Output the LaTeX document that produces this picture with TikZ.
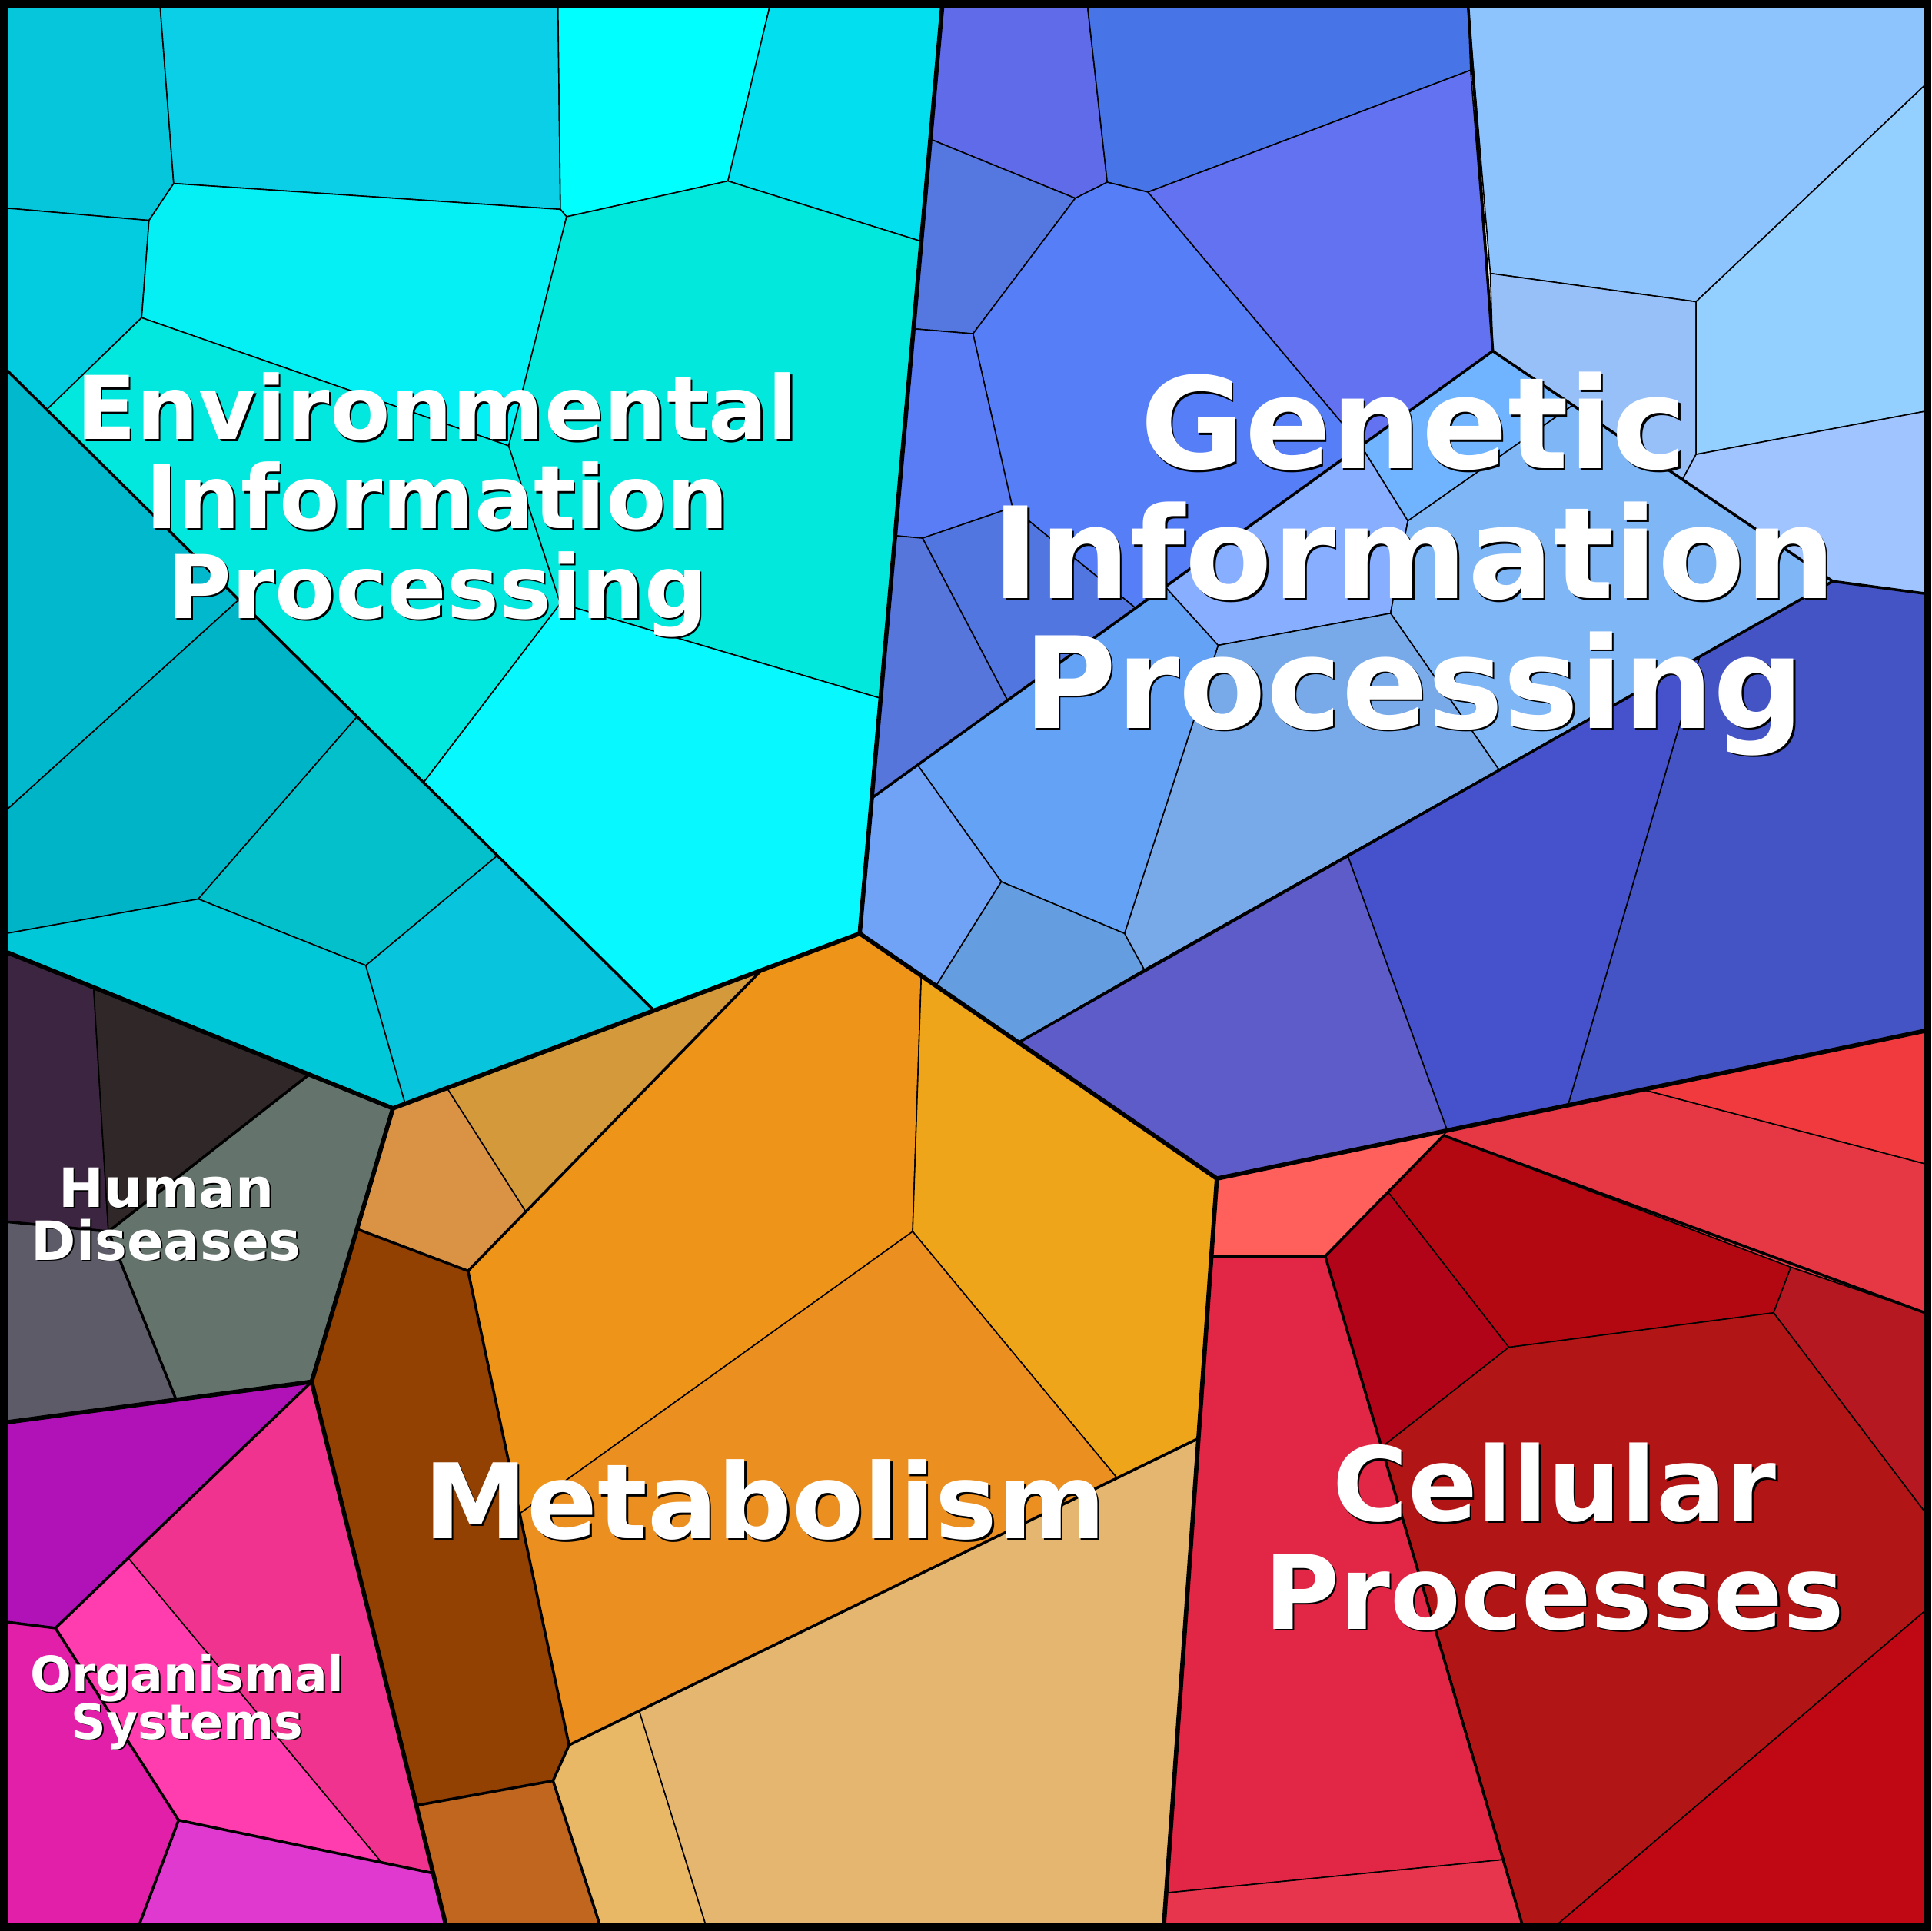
\documentclass[tikz,border=0pt]{standalone}
\usepackage{fontspec}
\setmainfont{DejaVu Sans}
\begin{document}
\begin{tikzpicture}[x=0.016cm,y=-0.016cm,
  cell/.style={draw=black,line width=0.45pt,line join=round},
  mid/.style={draw=black,line width=1pt,line join=round},
  top/.style={draw=black,line width=1.6pt,line join=round},
  lab/.style={text=white,font=\bfseries,align=center,inner sep=0pt},
  shd/.style={text=black,font=\bfseries,align=center,inner sep=0pt}]
\useasboundingbox (0,0) rectangle (1568,1568);
% ---------- Environmental ----------
\filldraw[cell,fill={rgb,255:red,5;green,198;blue,219}] (5,5)--(130,5)--(141,149)--(121,179)--(5,169)--cycle;
\filldraw[cell,fill={rgb,255:red,11;green,207;blue,230}] (130,5)--(453,5)--(455,170)--(141,149)--cycle;
\filldraw[cell,fill={rgb,255:red,0;green,255;blue,255}] (453,5)--(625,5)--(591,147)--(460,176)--(455,170)--cycle;
\filldraw[cell,fill={rgb,255:red,2;green,224;blue,240}] (625,5)--(765,5)--(748,196)--(591,147)--cycle;
\filldraw[cell,fill={rgb,255:red,4;green,204;blue,224}] (5,169)--(121,179)--(115,258)--(38,332.6)--(5,300)--cycle;
\filldraw[cell,fill={rgb,255:red,5;green,240;blue,245}] (141,149)--(455,170)--(460,176)--(413,362)--(115,258)--(121,179)--cycle;
\filldraw[cell,fill={rgb,255:red,3;green,232;blue,222}] (115,258)--(413,362)--(455,490)--(344,635.3)--(38,332.6)--cycle;
\filldraw[cell,fill={rgb,255:red,3;green,232;blue,220}] (460,176)--(591,147)--(748,196)--(741.7,267)--(726.7,435)--(715,567)--(455,490)--(413,362)--cycle;
\filldraw[cell,fill={rgb,255:red,8;green,248;blue,255}] (455,490)--(715,567)--(707.8,648)--(698,758)--(618,788)--(531,820.6)--(344,635.3)--cycle;
\filldraw[cell,fill={rgb,255:red,2;green,184;blue,204}] (5,300)--(194,486.9)--(5,658)--cycle;
\filldraw[cell,fill={rgb,255:red,0;green,180;blue,200}] (5,658)--(194,486.9)--(290,581.9)--(161,730)--(5,758)--cycle;
\filldraw[cell,fill={rgb,255:red,3;green,192;blue,202}] (161,730)--(290,581.9)--(404,694.6)--(297,784)--cycle;
\filldraw[cell,fill={rgb,255:red,0;green,200;blue,216}] (5,758)--(161,730)--(297,784)--(329,896.3)--(319,900)--(5,773)--cycle;
\filldraw[cell,fill={rgb,255:red,8;green,196;blue,220}] (297,784)--(404,694.6)--(531,820.6)--(329,896.3)--cycle;
% ---------- Genetic ----------
\filldraw[cell,fill={rgb,255:red,95;green,107;blue,232}] (765,5)--(883,5)--(899,148)--(873,161)--(755.4,113)--cycle;
\filldraw[cell,fill={rgb,255:red,71;green,116;blue,230}] (883,5)--(1192,5)--(1194,57)--(932,156)--(899,148)--cycle;
\filldraw[cell,fill={rgb,255:red,98;green,114;blue,240}] (932,156)--(1194,57)--(1212,285)--(1105,362)--cycle;
\filldraw[cell,fill={rgb,255:red,85;green,119;blue,224}] (755.4,113)--(873,161)--(790,271)--(741.7,267)--cycle;
\filldraw[cell,fill={rgb,255:red,86;green,126;blue,246}] (873,161)--(899,148)--(932,156)--(1105,362)--(922,493.8)--(822,412)--(790,271)--cycle;
\filldraw[cell,fill={rgb,255:red,90;green,124;blue,244}] (741.7,267)--(790,271)--(822,412)--(749,437)--(726.7,435)--cycle;
\filldraw[cell,fill={rgb,255:red,82;green,118;blue,224}] (749,437)--(822,412)--(922,493.8)--(818,568.7)--cycle;
\filldraw[cell,fill={rgb,255:red,86;green,118;blue,220}] (726.7,435)--(749,437)--(818,568.7)--(707.8,648)--(715,567)--cycle;
\filldraw[cell,fill={rgb,255:red,112;green,180;blue,255}] (1212,285)--(1105,362)--(1143,423)--(1277,329)--cycle;
\filldraw[cell,fill={rgb,255:red,136;green,174;blue,255}] (1105,362)--(1143,423)--(1129,498)--(989,524)--(946,476.5)--cycle;
\filldraw[cell,fill={rgb,255:red,126;green,182;blue,246}] (1143,423)--(1277,329)--(1366,389.3)--(1488,472)--(1380,533)--(1217,625)--(1129,498)--cycle;
\filldraw[cell,fill={rgb,255:red,120;green,170;blue,234}] (989,524)--(1129,498)--(1217,625)--(1094,694.3)--(929,787.4)--(913,758)--cycle;
\filldraw[cell,fill={rgb,255:red,100;green,162;blue,246}] (946,476.5)--(989,524)--(913,758)--(813,716)--(745,621.2)--cycle;
\filldraw[cell,fill={rgb,255:red,112;green,162;blue,246}] (707.8,648)--(745,621.2)--(813,716)--(760,800.5)--(698,758)--cycle;
\filldraw[cell,fill={rgb,255:red,100;green,158;blue,224}] (813,716)--(913,758)--(929,787.4)--(827,846.5)--(760,800.5)--cycle;
\filldraw[cell,fill={rgb,255:red,142;green,196;blue,254}] (1192,5)--(1563,5)--(1563,69)--(1377,245)--(1210,222)--cycle;
\filldraw[cell,fill={rgb,255:red,152;green,192;blue,248}] (1210,222)--(1377,245)--(1377,369)--(1366,389.3)--(1212,285)--cycle;
\filldraw[cell,fill={rgb,255:red,148;green,208;blue,255}] (1377,245)--(1563,69)--(1563,334)--(1377,369)--cycle;
\filldraw[cell,fill={rgb,255:red,160;green,196;blue,255}] (1377,369)--(1563,334)--(1563,482)--(1488,472)--(1366,389.3)--cycle;
\filldraw[cell,fill={rgb,255:red,68;green,84;blue,196}] (1488,472)--(1563,482)--(1563,837)--(1334,884.8)--(1273,897.5)--(1380,533)--cycle;
\filldraw[cell,fill={rgb,255:red,70;green,82;blue,204}] (1380,533)--(1273,897.5)--(1175,918)--(1094,694.3)--(1217,625)--cycle;
\filldraw[cell,fill={rgb,255:red,94;green,92;blue,200}] (1094,694.3)--(1175,918)--(988,957)--(827,846.5)--(929,787.4)--cycle;
% ---------- Metabolism ----------
\filldraw[cell,fill={rgb,255:red,218;green,146;blue,69}] (319,900)--(363,883.5)--(427,984)--(380,1032)--(290,998)--cycle;
\filldraw[cell,fill={rgb,255:red,212;green,153;blue,58}] (363,883.5)--(618,788)--(427,984)--cycle;
\filldraw[cell,fill={rgb,255:red,238;green,148;blue,24}] (618,788)--(698,758)--(748,792.3)--(741,1000)--(422,1229)--(380,1032)--cycle;
\filldraw[cell,fill={rgb,255:red,239;green,165;blue,26}] (748,792.3)--(827,846.5)--(988,957)--(973,1168)--(907,1200.2)--(741,1000)--cycle;
\filldraw[cell,fill={rgb,255:red,235;green,143;blue,32}] (741,1000)--(907,1200.2)--(462,1417)--(422,1229)--cycle;
\filldraw[cell,fill={rgb,255:red,147;green,64;blue,3}] (290,998)--(380,1032)--(462,1417)--(449,1446)--(338,1466)--(253,1122)--cycle;
\filldraw[cell,fill={rgb,255:red,192;green,102;blue,30}] (338,1466)--(449,1446)--(487,1563)--(362,1563)--cycle;
\filldraw[cell,fill={rgb,255:red,232;green,184;blue,102}] (462,1417)--(519,1389.2)--(573,1563)--(487,1563)--(449,1446)--cycle;
\filldraw[cell,fill={rgb,255:red,229;green,182;blue,111}] (519,1389.2)--(973,1168)--(945,1563)--(573,1563)--cycle;
% ---------- Human Diseases ----------
\filldraw[cell,fill={rgb,255:red,60;green,37;blue,64}] (5,773)--(76,801.7)--(88,1000)--(5,992)--cycle;
\filldraw[cell,fill={rgb,255:red,48;green,40;blue,40}] (76,801.7)--(251,872.5)--(88,1000)--cycle;
\filldraw[cell,fill={rgb,255:red,100;green,115;blue,108}] (251,872.5)--(319,900)--(253,1122)--(143,1136.6)--(88,1000)--cycle;
\filldraw[cell,fill={rgb,255:red,94;green,91;blue,104}] (5,992)--(88,1000)--(143,1136.6)--(5,1155)--cycle;
% ---------- Organismal ----------
\filldraw[cell,fill={rgb,255:red,176;green,18;blue,184}] (5,1155)--(253,1122)--(104,1265)--(45,1322)--(5,1317)--cycle;
\filldraw[cell,fill={rgb,255:red,240;green,51;blue,142}] (104,1265)--(253,1122)--(351.6,1521)--(310,1512.6)--cycle;
\filldraw[cell,fill={rgb,255:red,255;green,61;blue,174}] (45,1322)--(104,1265)--(310,1512.6)--(145,1478)--cycle;
\filldraw[cell,fill={rgb,255:red,226;green,31;blue,168}] (5,1317)--(45,1322)--(145,1478)--(113,1563)--(5,1563)--cycle;
\filldraw[cell,fill={rgb,255:red,224;green,57;blue,208}] (145,1478)--(351.6,1521)--(362,1563)--(113,1563)--cycle;
% ---------- Cellular ----------
\filldraw[cell,fill={rgb,255:red,255;green,96;blue,92}] (988,957)--(1175,918)--(1172,922)--(1076,1020)--(983.5,1020)--cycle;
\filldraw[cell,fill={rgb,255:red,230;green,56;blue,68}] (1175,918)--(1334,884.8)--(1563,945)--(1563,1066)--(1454,1029)--(1172,922)--cycle;
\filldraw[cell,fill={rgb,255:red,240;green,58;blue,62}] (1334,884.8)--(1563,837)--(1563,945)--cycle;
\filldraw[cell,fill={rgb,255:red,179;green,8;blue,18}] (1127,968)--(1172,922)--(1454,1029)--(1440,1066)--(1225,1094)--cycle;
\filldraw[cell,fill={rgb,255:red,178;green,4;blue,24}] (1076,1020)--(1127,968)--(1225,1094)--(1122,1175)--cycle;
\filldraw[cell,fill={rgb,255:red,182;green,24;blue,34}] (1454,1029)--(1563,1066)--(1563,1228)--(1440,1066)--cycle;
\filldraw[cell,fill={rgb,255:red,177;green,21;blue,21}] (1225,1094)--(1440,1066)--(1563,1228)--(1563,1308)--(1264,1563)--(1236,1563)--(1221,1510)--(1122,1175)--cycle;
\filldraw[cell,fill={rgb,255:red,192;green,8;blue,20}] (1563,1308)--(1563,1563)--(1264,1563)--cycle;
\filldraw[cell,fill={rgb,255:red,226;green,38;blue,70}] (983.5,1020)--(1076,1020)--(1122,1175)--(1221,1510)--(946.8,1537)--(973,1168)--cycle;
\filldraw[cell,fill={rgb,255:red,232;green,53;blue,78}] (946.8,1537)--(1221,1510)--(1236,1563)--(945,1563)--cycle;
% ---------- second-level borders ----------
\draw[mid] (5,300)--(531,820.6);
\draw[mid] (1192,5)--(1212,285);
\draw[mid] (707.8,648)--(1212,285)--(1488,472)--(1563,482);
\draw[mid] (1488,472)--(827,846.5);
\draw[mid] (290,998)--(380,1032)--(462,1417)--(449,1446)--(338,1466);
\draw[mid] (449,1446)--(487,1563);
\draw[mid] (462,1417)--(973,1168);
\draw[mid] (380,1032)--(618,788);
\draw[mid] (251,872.5)--(88,1000)--(143,1136.6);
\draw[mid] (5,992)--(88,1000);
\draw[mid] (253,1122)--(45,1322)--(5,1317);
\draw[mid] (45,1322)--(145,1478)--(113,1563);
\draw[mid] (145,1478)--(351.6,1521);
\draw[mid] (983.5,1020)--(1076,1020)--(1172,922)--(1563,1066);
\draw[mid] (1076,1020)--(1236,1563);
% ---------- top-level borders ----------
\draw[top] (765,5)--(698,758)--(319,900)--(5,773);
\draw[top] (319,900)--(253,1122)--(5,1155);
\draw[top] (253,1122)--(362,1563);
\draw[top] (698,758)--(988,957)--(1563,837);
\draw[top] (988,957)--(945,1563);
\draw[black,line width=2.8pt] (3,3) rectangle (1565,1565);
% ---------- labels ----------
\tikzset{env/.style={font=\bfseries\fontsize{32.5}{33}\selectfont},
 gen/.style={font=\bfseries\fontsize{47}{48}\selectfont},
 met/.style={font=\bfseries\fontsize{38.5}{40}\selectfont},
 cel/.style={font=\bfseries\fontsize{38}{40}\selectfont},
 sml/.style={font=\bfseries\fontsize{20}{19.5}\selectfont},
 orgf/.style={font=\bfseries\fontsize{18}{17.5}\selectfont}}
\node[shd,env] (envS) at (356.5,411.5) {Environmental\\Information\\Processing};
\node[lab,env] (env) at (355,410) {Environmental\\Information\\Processing};
\node[shd,gen] (genS) at (1149.5,459.5) {Genetic\\Information\\Processing};
\node[lab,gen] (gen) at (1148,458) {Genetic\\Information\\Processing};
\node[shd,met] (metS) at (622.5,1219.5) {Metabolism};
\node[lab,met] (met) at (621,1218) {Metabolism};
\node[shd,cel] (celS) at (1263.5,1249.5) {Cellular\\Processes};
\node[lab,cel] (cel) at (1262,1248) {Cellular\\Processes};
\node[shd,sml] (humS) at (136.2,987.2) {Human\\Diseases};
\node[lab,sml] (hum) at (135,986) {Human\\Diseases};
\node[shd,orgf] (orgS) at (153.2,1383.2) {Organismal\\Systems};
\node[lab,orgf] (org) at (152,1382) {Organismal\\Systems};
\end{tikzpicture}
\end{document}
